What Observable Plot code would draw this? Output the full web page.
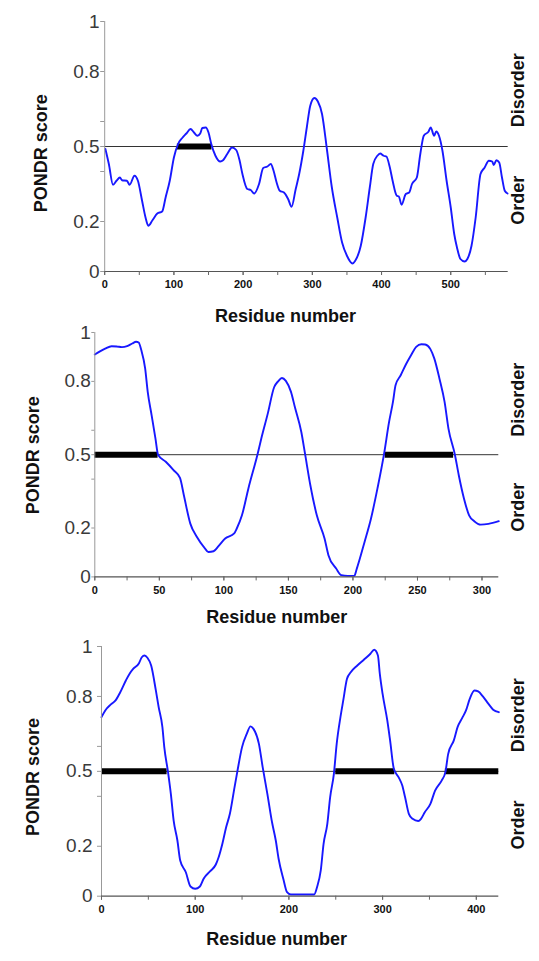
<!DOCTYPE html>
<html><head><meta charset="utf-8">
<script src="https://cdn.jsdelivr.net/npm/d3@7"></script>
<script src="https://cdn.jsdelivr.net/npm/@observablehq/plot@0.6"></script>
<style>
body{margin:0;background:#fff;}
#wrap{position:relative;width:539px;height:961px;overflow:hidden;background:#fff;}
#wrap svg{position:absolute;left:0;}
</style></head><body><div id="wrap"></div>
<script>
// ---------- Panel 1 ----------
const residues1 = [1,6,12,17,22,25,32,36,43,48,54,59,63,69,76,83,88,94,100,106,112,118,124,129,134,138,141,146,150,154,160,167,171,177,184,190,195,199,206,211,216,223,229,235,240,244,248,253,259,265,270,276,281,287,292,297,303,308,314,321,328,336,343,350,358,362,370,377,383,388,394,398,403,407,412,416,422,425,429,435,440,444,451,456,461,468,471,476,479,483,488,494,500,505,509,514,520,524,530,536,543,549,555,560,562,566,570,574,578,582];
const scores1 = [0.49,0.43,0.347,0.363,0.376,0.365,0.363,0.347,0.383,0.363,0.283,0.216,0.183,0.205,0.232,0.24,0.296,0.363,0.456,0.51,0.534,0.552,0.57,0.556,0.543,0.552,0.574,0.576,0.556,0.51,0.463,0.44,0.445,0.47,0.496,0.486,0.443,0.39,0.33,0.326,0.312,0.35,0.414,0.42,0.43,0.403,0.36,0.323,0.316,0.29,0.259,0.33,0.39,0.483,0.576,0.663,0.694,0.68,0.63,0.49,0.34,0.216,0.116,0.063,0.032,0.043,0.103,0.216,0.336,0.43,0.463,0.472,0.463,0.46,0.416,0.363,0.303,0.3,0.267,0.31,0.316,0.35,0.376,0.47,0.543,0.56,0.576,0.543,0.56,0.543,0.483,0.363,0.256,0.15,0.096,0.05,0.04,0.05,0.103,0.216,0.39,0.416,0.443,0.44,0.426,0.445,0.436,0.376,0.323,0.312];
const barStart1 = [105];
const barEnd1 = [155];
const xMinorTicks1 = [0,50,100,150,200,250,300,350,400,450,500,550];
const xLabelTicks1 = [0,100,200,300,400,500];

// ---------- Panel 2 ----------
const residues2 = [0,4,8,13,17,21,25,29,32,34,36,39,41,44,47,49,55,61,66,69,74,79,85,88,92,96,101,108,110,114,119,126,129,134,139,142,145,148,152,155,160,163,167,172,178,181,187,191,196,201,203,209,214,219,224,228,231,233,237,241,245,249,253,256,260,263,267,271,274,279,282,286,290,294,299,305,313];
const scores2 = [0.91,0.923,0.934,0.944,0.943,0.94,0.944,0.955,0.962,0.959,0.928,0.853,0.757,0.662,0.566,0.5,0.471,0.437,0.405,0.334,0.218,0.164,0.119,0.102,0.105,0.127,0.157,0.178,0.198,0.252,0.362,0.5,0.566,0.668,0.777,0.8,0.814,0.802,0.757,0.695,0.593,0.5,0.375,0.252,0.157,0.089,0.034,0.007,0.004,0.004,0.034,0.143,0.239,0.362,0.5,0.634,0.716,0.784,0.825,0.869,0.907,0.941,0.952,0.951,0.932,0.894,0.812,0.716,0.607,0.5,0.416,0.321,0.252,0.228,0.214,0.217,0.228];
const barStart2 = [0,225];
const barEnd2 = [49,278];
const xMinorTicks2 = [0,25,50,75,100,125,150,175,200,225,250,275,300];
const xLabelTicks2 = [0,50,100,150,200,250,300];

// ---------- Panel 3 ----------
const residues3 = [0,4,10,15,20,26,30,34,40,43,46,49,53,58,61,65,67,71,74,77,81,84,90,95,100,105,109,116,122,125,129,133,137,142,145,150,155,159,162,168,172,177,182,186,189,194,198,202,212,227,230,234,237,241,244,248,251,255,258,262,266,273,280,287,291,295,297,300,305,308,312,317,321,324,328,332,338,341,345,351,356,363,367,370,376,380,385,389,393,398,402,407,413,418,424];
const scores3 = [0.717,0.744,0.768,0.784,0.817,0.864,0.891,0.911,0.933,0.957,0.964,0.955,0.924,0.824,0.757,0.677,0.597,0.497,0.41,0.303,0.223,0.143,0.096,0.039,0.03,0.039,0.07,0.1,0.127,0.156,0.21,0.276,0.33,0.437,0.5,0.597,0.65,0.68,0.671,0.61,0.517,0.41,0.296,0.223,0.15,0.07,0.016,0.007,0.007,0.007,0.036,0.103,0.21,0.29,0.396,0.49,0.61,0.717,0.784,0.871,0.897,0.924,0.947,0.971,0.987,0.964,0.891,0.81,0.704,0.624,0.51,0.477,0.443,0.396,0.33,0.31,0.301,0.31,0.336,0.37,0.423,0.463,0.497,0.57,0.624,0.677,0.714,0.744,0.79,0.824,0.82,0.8,0.77,0.747,0.737];
const barStart3 = [0,250,367];
const barEnd3 = [70,313,424];
const xMinorTicks3 = [0,50,100,150,200,250,300,350,400];
const xLabelTicks3 = [0,100,200,300,400];

// ---------- shared ----------
const yTicks = [0,0.2,0.4,0.5,0.6,0.8,1];
const yTickLabels = ["0","0.2","","0.5","","0.8","1"];
const threshold = [0.5];
const yTitle = "PONDR score";
const xTitle = "Residue number";
const sideLabels = ["Disorder","Order"];
const sideLabelY = [0.725,0.285];

const FONT = '"Liberation Sans", Arial, Helvetica, sans-serif';

function panel(cfg) {
  const mt = 25, mb = 60;
  const h = mt + (cfg.bottom - cfg.top) + mb;
  const pts = cfg.res.map((r, i) => ({r, v: cfg.sc[i]}));
  const bars = cfg.bs.map((s, i) => ({s, e: cfg.be[i]}));
  const svg = Plot.plot({
    width: 539,
    height: h,
    marginLeft: cfg.left,
    marginRight: 539 - cfg.right,
    marginTop: mt,
    marginBottom: mb,
    style: {fontFamily: FONT, background: "transparent", overflow: "visible"},
    x: {domain: [0, cfg.xMax], axis: null, label: null},
    y: {domain: [0, 1], axis: null, label: null},
    marks: [
      Plot.ruleY(threshold, {x1: 0, x2: cfg.xMax, stroke: "#333", strokeWidth: 1}),
      Plot.ruleY(bars, {y: 0.5, x1: "s", x2: "e", stroke: "#000", strokeWidth: 6}),
      Plot.line(pts, {x: "r", y: "v", stroke: "#1818ff", strokeWidth: 1.9, curve: "monotone-x"}),
      Plot.ruleX([0], {y1: 0, y2: 1, stroke: "#999", strokeWidth: 1}),
      Plot.ruleY([0], {x1: 0, x2: cfg.xMax, stroke: "#555", strokeWidth: 1.2}),
      Plot.axisY({ticks: yTicks, tickFormat: d => yTickLabels[yTicks.indexOf(d)], tickSize: cfg.yTickSize, tickPadding: cfg.yPad,
        fontSize: 19, fill: "#3a3a3a", stroke: "#999", label: null}),
      Plot.axisX({ticks: cfg.minor, tickSize: 4, fill: "none", stroke: "#666", label: null, tickFormat: () => ""}),
      Plot.axisX({ticks: cfg.major, tickSize: 4, tickPadding: 5, fontSize: 11, fontWeight: "bold", fill: "#111", stroke: "#666", label: null}),
      Plot.text([yTitle], {text: d => d, frameAnchor: "left", y: cfg.yTitleY, dx: cfg.yTitleDx, rotate: -90,
        textAnchor: "middle", lineAnchor: "middle", fontSize: 18, fontWeight: "bold", fill: "#111"}),
      Plot.text([xTitle], {text: d => d, frameAnchor: "bottom", dx: cfg.xTitleDx, dy: cfg.xTitleDy,
        textAnchor: "middle", lineAnchor: "middle", fontSize: 18, fontWeight: "bold", fill: "#111"}),
      Plot.text(sideLabels, {text: d => d, y: sideLabelY, frameAnchor: "right", dx: cfg.sideDx, rotate: -90,
        textAnchor: "middle", lineAnchor: "middle", fontSize: 18, fontWeight: "bold", fill: "#111"})
    ]
  });
  svg.style.top = (cfg.top - mt) + "px";
  document.getElementById("wrap").appendChild(svg);
}

panel({res: residues1, sc: scores1, bs: barStart1, be: barEnd1, xMax: 583, minor: xMinorTicks1, major: xLabelTicks1,
  left: 104.2, right: 507.7, top: 20.7, bottom: 270.7, yTickSize: 4, yPad: 1,
  yTitleY: 0.473, yTitleDx: -63.8, xTitleDx: -21, xTitleDy: 44.5, sideDx: 9.7});
panel({res: residues2, sc: scores2, bs: barStart2, be: barEnd2, xMax: 313, minor: xMinorTicks2, major: xLabelTicks2,
  left: 94.3, right: 498.3, top: 332.3, bottom: 576.7, yTickSize: 3, yPad: 1,
  yTitleY: 0.498, yTitleDx: -61.1, xTitleDx: -20, xTitleDy: 40, sideDx: 19});
panel({res: residues3, sc: scores3, bs: barStart3, be: barEnd3, xMax: 424, minor: xMinorTicks3, major: xLabelTicks3,
  left: 101, right: 498.3, top: 646, bottom: 895.7, yTickSize: 4, yPad: 5,
  yTitleY: 0.477, yTitleDx: -67.8, xTitleDx: -23.5, xTitleDy: 42.6, sideDx: 19});
</script>
</body></html>
